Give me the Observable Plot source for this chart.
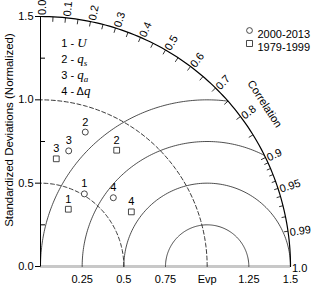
<!DOCTYPE html>
<html><head><meta charset="utf-8">
<script src="https://cdn.jsdelivr.net/npm/d3@7"></script>
<script src="https://cdn.jsdelivr.net/npm/@observablehq/plot@0.6"></script>
<style>body{margin:0;background:#fff} svg{display:block}</style>
</head><body><div id="chart"></div>
<script>
// ---- data ----
const variables = ["1", "2", "3", "4"];
const legendEntries = ["1 - U", "2 - qs", "3 - qa", "4 - Δq"];
const periods = ["2000-2013", "1979-1999"];
const std2000 = [0.509, 0.850, 0.714, 0.601];
const corr2000 = [0.517, 0.316, 0.237, 0.727];
const std1979 = [0.382, 0.834, 0.653, 0.636];
const corr1979 = [0.437, 0.548, 0.145, 0.857];
const corrLabels = [0, 0.1, 0.2, 0.3, 0.4, 0.5, 0.6, 0.7, 0.8, 0.9, 0.95, 0.99, 1.0];
const corrLabelText = ["0.0","0.1","0.2","0.3","0.4","0.5","0.6","0.7","0.8","0.9","0.95","0.99","1.0"];
const corrTicksCoarse = [0.05,0.1,0.15,0.2,0.25,0.3,0.35,0.4,0.45,0.5,0.55,0.6,0.65,0.7,0.75,0.8,0.85,0.9];
const corrTicksFine = [0.91,0.92,0.93,0.94,0.95,0.96,0.97,0.98,0.99];
const stdTicksMajor = [0, 0.5, 1.0, 1.5];
const stdTicksMinor = [0.25, 0.75, 1.25];
const xTickValues = [0.25, 0.5, 0.75, 1.0, 1.25, 1.5];
const xTickLabels = ["0.25", "0.5", "0.75", "Evp", "1.25", "1.5"];
const refStd = 1.0;
const maxStd = 1.5;
const rmsContours = [0.25, 0.5, 0.75, 1.0];
const stdContours = [0.5, 1.0];
const yTitle = "Standardized Deviations (Normalized)";
const corrTitle = "Correlation";

// ---- geometry helpers ----
const k = 250 / maxStd; // px per unit
const rad = Math.PI / 180;
function arcAroundOrigin(r, id) {
  const pts = [];
  for (let a = 0; a <= 90.001; a += 1) pts.push({id, x: r * Math.cos(a * rad), y: r * Math.sin(a * rad)});
  return pts;
}
function rmsArc(r) {
  const xi = (maxStd * maxStd - r * r + refStd * refStd) / (2 * refStd);
  let a0 = 0;
  if (xi < maxStd) {
    const yi = Math.sqrt(maxStd * maxStd - xi * xi);
    a0 = Math.atan2(yi, xi - refStd) / rad;
  }
  const pts = [];
  const n = 120;
  for (let j = 0; j <= n; j++) {
    const a = a0 + (180 - a0) * j / n;
    pts.push({id: r, x: refStd + r * Math.cos(a * rad), y: r * Math.sin(a * rad)});
  }
  return pts;
}
const rmsPts = rmsContours.flatMap(rmsArc);
const stdPts = stdContours.flatMap(r => arcAroundOrigin(r, r));
const outerPts = arcAroundOrigin(maxStd, "outer");

function tickLinks(list, len) {
  return list.map(c => {
    const t = Math.acos(c);
    return {x1: maxStd * Math.cos(t), y1: maxStd * Math.sin(t),
            x2: (maxStd - len / k) * Math.cos(t), y2: (maxStd - len / k) * Math.sin(t)};
  });
}
const corrLabelPos = corrLabels.map((c, i) => {
  const t = Math.acos(c);
  const r0 = maxStd + 1.5 / k, tt = 1.5 / k;
  return {text: corrLabelText[i], x: r0 * Math.cos(t) + tt * Math.sin(t),
          y: r0 * Math.sin(t) - tt * Math.cos(t), rot: -t / rad};
});

const points = [
  ...variables.map((v, i) => ({v, period: periods[0], std: std2000[i], corr: corr2000[i]})),
  ...variables.map((v, i) => ({v, period: periods[1], std: std1979[i], corr: corr1979[i]}))
].map(d => ({...d, x: d.std * d.corr, y: d.std * Math.sqrt(1 - d.corr * d.corr)}));

const ink = "#222";
const plot = Plot.plot({
  width: 312, height: 285,
  marginLeft: 40, marginRight: 22, marginTop: 16, marginBottom: 19,
  x: {domain: [0, maxStd]},
  y: {domain: [0, maxStd]},
  style: {fontFamily: "'Liberation Sans', Arial, sans-serif", fontSize: "11px", background: "white", overflow: "visible"},
  marks: [
    Plot.ruleY([0], {x1: 0, x2: maxStd, stroke: "#c8c8c8", strokeWidth: 3}),
    Plot.line(rmsPts, {x: "x", y: "y", z: "id", stroke: ink, strokeWidth: 0.8}),
    Plot.line(stdPts, {x: "x", y: "y", z: "id", stroke: ink, strokeWidth: 0.9, strokeDasharray: "4,2.5"}),
    Plot.line(outerPts, {x: "x", y: "y", stroke: "black", strokeWidth: 1.2}),
    Plot.ruleX([0], {y1: 0, y2: maxStd, stroke: "black", strokeWidth: 1}),
    Plot.axisY({ticks: stdTicksMajor, tickFormat: d3.format(".1f"), tickSize: 5, tickPadding: 2, label: null, fontSize: 11}),
    Plot.ruleY(stdTicksMinor, {x1: 0, x2: 5 / k, stroke: "black"}),
    Plot.axisX({ticks: xTickValues, tickFormat: d => xTickLabels[xTickValues.indexOf(d)], tickSize: 0, tickPadding: 9, label: null, fontSize: 11}),
    Plot.link(tickLinks(corrTicksCoarse, 5), {x1: "x1", y1: "y1", x2: "x2", y2: "y2", stroke: "black", strokeWidth: 0.8}),
    Plot.link(tickLinks(corrTicksFine, 4), {x1: "x1", y1: "y1", x2: "x2", y2: "y2", stroke: "black", strokeWidth: 0.8}),
    Plot.text(corrLabelPos, {x: "x", y: "y", text: "text", rotate: "rot", textAnchor: "start", fontSize: 11}),
    Plot.text([corrTitle], {x: 1.345, y: 0.975, text: d => d, rotate: 57, fontSize: 11}),
    Plot.text([yTitle], {x: -0.186, y: 0.819, text: d => d, rotate: -90, fontSize: 11.5}),
    Plot.dot(points, {x: "x", y: "y", symbol: d => d.period === periods[0] ? "circle" : "square",
      r: d => d.period === periods[0] ? 2.9 : 3.4, stroke: "#333", strokeWidth: 0.9, fill: "white"}),
    Plot.text(points, {x: "x", y: "y", text: "v", dy: -10, fontSize: 11}),
    Plot.text(legendEntries, {x: 0.125, y: (d, i) => 1.338 - i * 0.096, text: d => d, textAnchor: "start", fontSize: 11}),
    Plot.dot([periods[0]], {frameAnchor: "top-right", dx: -41, dy: 14, symbol: "circle", r: 2.9, stroke: "#333", strokeWidth: 0.9}),
    Plot.dot([periods[1]], {frameAnchor: "top-right", dx: -41, dy: 27, symbol: "square", r: 3.4, stroke: "#333", strokeWidth: 0.9}),
    Plot.text([periods[0]], {frameAnchor: "top-right", dx: -33, dy: 14, text: d => d, textAnchor: "start", fontSize: 11}),
    Plot.text([periods[1]], {frameAnchor: "top-right", dx: -33, dy: 27, text: d => d, textAnchor: "start", fontSize: 11})
  ]
});
document.getElementById("chart").appendChild(plot);

// rich text for legend math symbols
const rich = {
  "1 - U": [["1 - "], ["U", "it"]],
  "2 - qs": [["2 - "], ["q", "it"], ["s", "sub"]],
  "3 - qa": [["3 - "], ["q", "it"], ["a", "sub"]],
  "4 - Δq": [["4 - Δ"], ["q", "it"]]
};
d3.select(plot).selectAll("text").each(function() {
  const parts = rich[this.textContent];
  if (!parts) return;
  const sel = d3.select(this);
  sel.text(null);
  for (const [t, kind] of parts) {
    const ts = sel.append("tspan").text(t);
    if (kind === "it") ts.attr("font-family", "'Liberation Serif', serif").attr("font-style", "italic").attr("font-size", 13);
    if (kind === "sub") ts.attr("font-family", "'Liberation Serif', serif").attr("font-style", "italic").attr("font-size", 9).attr("dy", 3);
  }
});
</script>
</body></html>
